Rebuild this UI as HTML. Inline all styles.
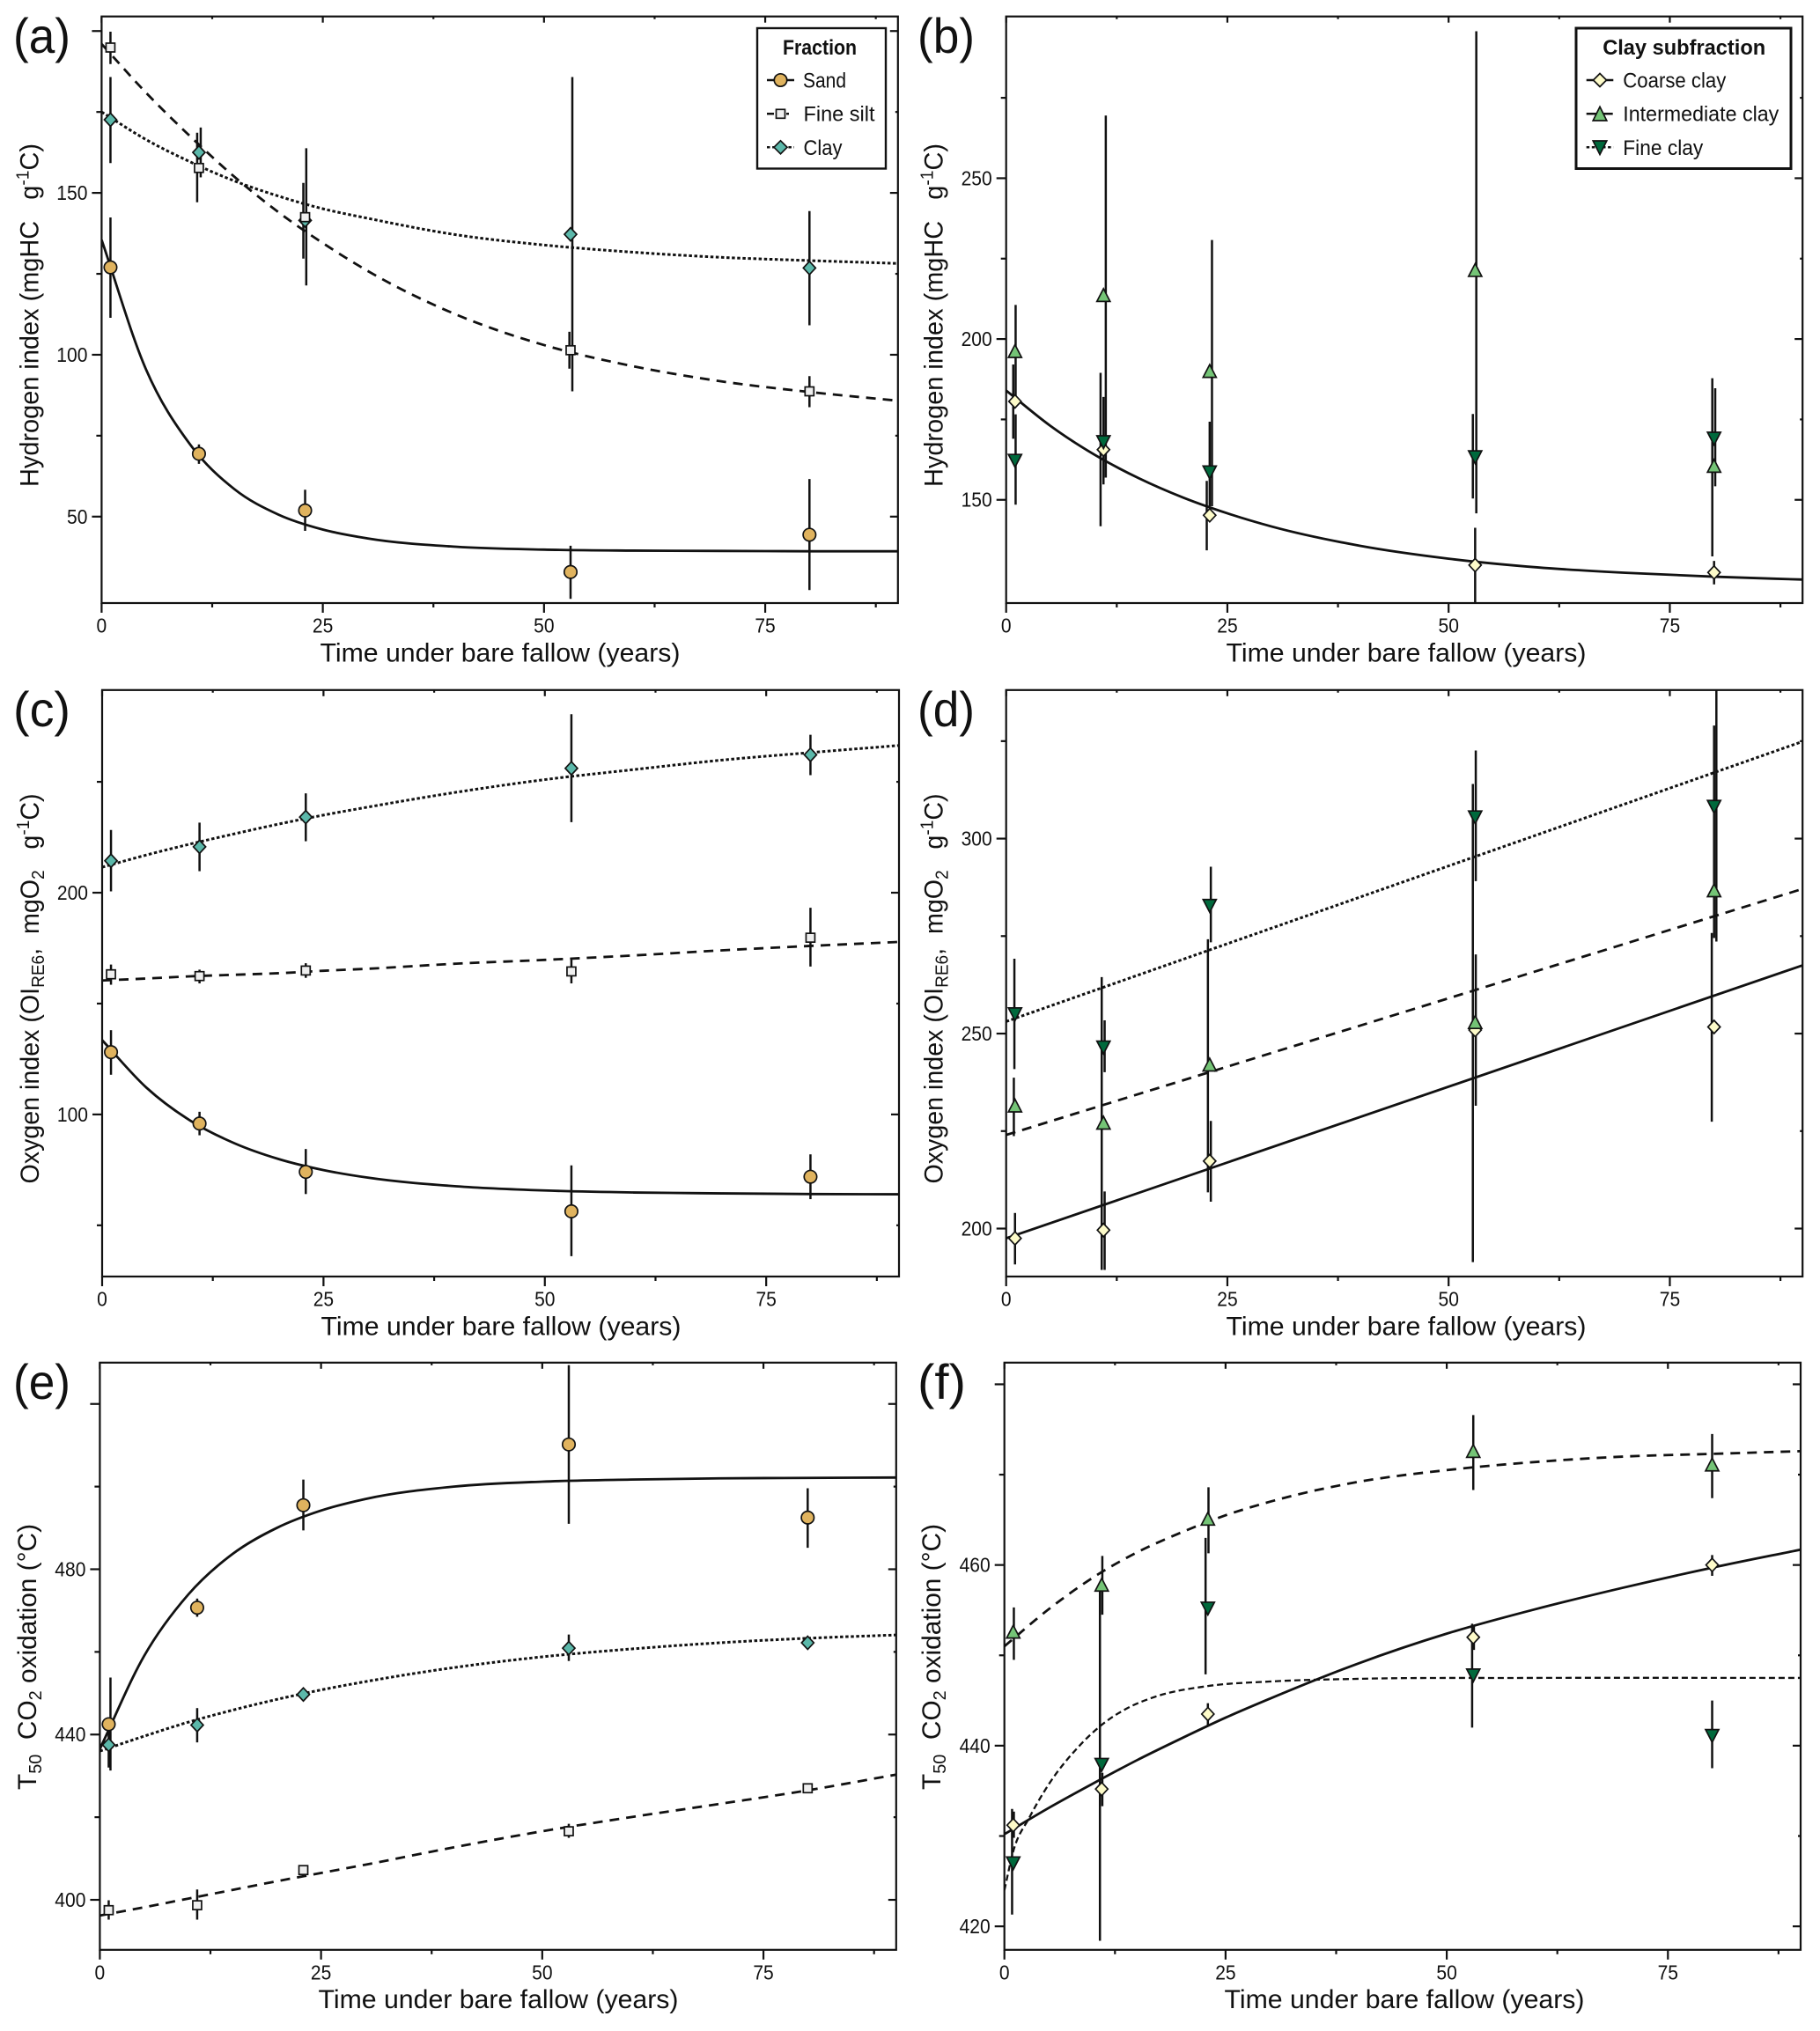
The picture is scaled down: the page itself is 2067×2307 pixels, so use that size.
<!DOCTYPE html>
<html lang="en">
<head>
<meta charset="utf-8">
<title>Rock-Eval indices under bare fallow</title>
<style>
html,body{margin:0;padding:0;background:#fff;}
svg{display:block;}
text{font-family:"Liberation Sans",sans-serif;fill:#111;}
.axis-title{font-size:30px;}
.x-title{font-size:30px;}
.panel-label{font-size:56px;}
.legend-title{font-size:24px;font-weight:bold;}
.legend-text{font-size:24px;}
.tick-label{font-size:23px;}
</style>
</head>
<body>
<svg id="figure" xmlns="http://www.w3.org/2000/svg" width="2067" height="2307" viewBox="0 0 2067 2307">
  <rect width="2067" height="2307" fill="#fff"/>
  <g id="plots"></g>

  <text class="panel-label" x="15" y="60" textLength="65" lengthAdjust="spacingAndGlyphs">(a)</text>
  <text class="panel-label" x="1042" y="60" textLength="65" lengthAdjust="spacingAndGlyphs">(b)</text>
  <text class="panel-label" x="15" y="825" textLength="65" lengthAdjust="spacingAndGlyphs">(c)</text>
  <text class="panel-label" x="1042" y="825" textLength="65" lengthAdjust="spacingAndGlyphs">(d)</text>
  <text class="panel-label" x="15" y="1589" textLength="65" lengthAdjust="spacingAndGlyphs">(e)</text>
  <text class="panel-label" x="1042" y="1589" textLength="55" lengthAdjust="spacingAndGlyphs">(f)</text>

  <text class="x-title" x="568" y="751.5" text-anchor="middle" textLength="409" lengthAdjust="spacingAndGlyphs">Time under bare fallow (years)</text>
  <text class="x-title" x="1597" y="751.5" text-anchor="middle" textLength="409" lengthAdjust="spacingAndGlyphs">Time under bare fallow (years)</text>
  <text class="x-title" x="569" y="1516.5" text-anchor="middle" textLength="409" lengthAdjust="spacingAndGlyphs">Time under bare fallow (years)</text>
  <text class="x-title" x="1597" y="1516.5" text-anchor="middle" textLength="409" lengthAdjust="spacingAndGlyphs">Time under bare fallow (years)</text>
  <text class="x-title" x="566" y="2281" text-anchor="middle" textLength="409" lengthAdjust="spacingAndGlyphs">Time under bare fallow (years)</text>
  <text class="x-title" x="1595" y="2281" text-anchor="middle" textLength="409" lengthAdjust="spacingAndGlyphs">Time under bare fallow (years)</text>

  <text class="axis-title" transform="translate(43.5,358) rotate(-90)" text-anchor="middle" textLength="390" lengthAdjust="spacingAndGlyphs" xml:space="preserve">Hydrogen index (mgHC   g<tspan dy="-11" font-size="20">-1</tspan><tspan dy="11">C)</tspan></text>
  <text class="axis-title" transform="translate(1070.5,358) rotate(-90)" text-anchor="middle" textLength="390" lengthAdjust="spacingAndGlyphs" xml:space="preserve">Hydrogen index (mgHC   g<tspan dy="-11" font-size="20">-1</tspan><tspan dy="11">C)</tspan></text>
  <text class="axis-title" transform="translate(44,1123) rotate(-90)" text-anchor="middle" textLength="443" lengthAdjust="spacingAndGlyphs" xml:space="preserve">Oxygen index (OI<tspan dy="6" font-size="20">RE6</tspan><tspan dy="-6">,  mgO</tspan><tspan dy="6" font-size="20">2</tspan><tspan dy="-6">   g</tspan><tspan dy="-11" font-size="20">-1</tspan><tspan dy="11">C)</tspan></text>
  <text class="axis-title" transform="translate(1070.5,1123) rotate(-90)" text-anchor="middle" textLength="443" lengthAdjust="spacingAndGlyphs" xml:space="preserve">Oxygen index (OI<tspan dy="6" font-size="20">RE6</tspan><tspan dy="-6">,  mgO</tspan><tspan dy="6" font-size="20">2</tspan><tspan dy="-6">   g</tspan><tspan dy="-11" font-size="20">-1</tspan><tspan dy="11">C)</tspan></text>
  <text class="axis-title" transform="translate(41,1882) rotate(-90)" text-anchor="middle" textLength="302" lengthAdjust="spacingAndGlyphs" xml:space="preserve">T<tspan dy="6" font-size="20">50</tspan><tspan dy="-6">  CO</tspan><tspan dy="6" font-size="20">2</tspan><tspan dy="-6"> oxidation (°C)</tspan></text>
  <text class="axis-title" transform="translate(1068,1882) rotate(-90)" text-anchor="middle" textLength="302" lengthAdjust="spacingAndGlyphs" xml:space="preserve">T<tspan dy="6" font-size="20">50</tspan><tspan dy="-6">  CO</tspan><tspan dy="6" font-size="20">2</tspan><tspan dy="-6"> oxidation (°C)</tspan></text>

  <g>
    <rect x="860" y="32" width="146" height="159.5" fill="#fff" stroke="#111" stroke-width="2.4"/>
    <text class="legend-title" x="931" y="62" text-anchor="middle" textLength="84" lengthAdjust="spacingAndGlyphs">Fraction</text>
    <g>
      <line x1="871" x2="902" y1="91" y2="91" stroke="#111" stroke-width="2.5"/>
      <circle cx="886.5" cy="91" r="7.2" fill="#e0b35e" stroke="#111" stroke-width="1.7"/>
      <text class="legend-text" x="912" y="99.3" textLength="49" lengthAdjust="spacingAndGlyphs">Sand</text>
    </g>
    <g>
      <line x1="871" x2="902" y1="129.3" y2="129.3" stroke="#111" stroke-width="2.5" stroke-dasharray="8 14 3 6"/>
      <rect x="881.5" y="124.3" width="10" height="10" fill="#efefef" stroke="#111" stroke-width="1.7"/>
      <text class="legend-text" x="912.5" y="137.7" textLength="81" lengthAdjust="spacingAndGlyphs">Fine silt</text>
    </g>
    <g>
      <line x1="871" x2="902" y1="167.3" y2="167.3" stroke="#111" stroke-width="2.5" stroke-dasharray="3.5 2.6"/>
      <polygon points="886.5,159.8 894,167.3 886.5,174.8 879,167.3" fill="#5bb8aa" stroke="#111" stroke-width="1.7"/>
      <text class="legend-text" x="912.5" y="176" textLength="44" lengthAdjust="spacingAndGlyphs">Clay</text>
    </g>
  </g>

  <g>
    <rect x="1790" y="32" width="244" height="159.5" fill="#fff" stroke="#111" stroke-width="3"/>
    <text class="legend-title" x="1912.7" y="62" text-anchor="middle" textLength="185" lengthAdjust="spacingAndGlyphs">Clay subfraction</text>
    <g>
      <line x1="1801.7" x2="1832.3" y1="91" y2="91" stroke="#111" stroke-width="2.5"/>
      <polygon points="1817,83.5 1824.5,91 1817,98.5 1809.5,91" fill="#fdfbc9" stroke="#111" stroke-width="1.7"/>
      <text class="legend-text" x="1843.3" y="99.3" textLength="117" lengthAdjust="spacingAndGlyphs">Coarse clay</text>
    </g>
    <g>
      <line x1="1801.7" x2="1832.3" y1="129.3" y2="129.3" stroke="#111" stroke-width="2.5" stroke-dasharray="11 8"/>
      <polygon points="1817,121.3 1824.8,137 1809.2,137" fill="#74c476" stroke="#111" stroke-width="1.7"/>
      <text class="legend-text" x="1843.3" y="137.7" textLength="177" lengthAdjust="spacingAndGlyphs">Intermediate clay</text>
    </g>
    <g>
      <line x1="1801.7" x2="1832.3" y1="167.3" y2="167.3" stroke="#111" stroke-width="2.5" stroke-dasharray="3.5 2.6"/>
      <polygon points="1809.2,160 1824.8,160 1817,175.5" fill="#00693c" stroke="#111" stroke-width="1.7"/>
      <text class="legend-text" x="1843.3" y="176" textLength="91" lengthAdjust="spacingAndGlyphs">Fine clay</text>
    </g>
  </g>
</svg>

<script>
// ---- shared categories and ticks ----
const years = [1, 11, 23, 53, 80];
const xMajorTicks = [0, 25, 50, 75];
const xMinorTicks = [12.5, 37.5, 62.5, 87.5];
const fitYears = [0, 5, 10, 15, 20, 25, 30, 40, 50, 60, 70, 80, 90];
const noDodge = [0, 0, 0, 0, 0];

// ---- panel (a) hydrogen index, fractions ----
const aDomain = [23.3, 204.5];
const aMajorTicks = [50, 100, 150, 200];
const aTickLabels = ['50', '100', '150', ''];
const aMinorTicks = [75, 125, 175];
const aSandY = [127, 69.4, 51.9, 32.9, 44.4];
const aSandHigh = [142.4, 72.3, 58.3, 41, 61.6];
const aSandLow = [111.4, 66.3, 45.6, 24.6, 27.3];
const aSandFit = [135.5, 95.6, 72.3, 58.5, 50.6, 46, 43.3, 40.7, 39.8, 39.5, 39.4, 39.3, 39.3];
const aClayY = [172.6, 162.5, 141.5, 137.2, 126.8];
const aClayHigh = [185.8, 170.2, 163.8, 185.8, 144.4];
const aClayLow = [159.2, 154.8, 121.4, 88.7, 109.1];
const aClayDodge = [0, 0.2, 0.13, 0.2, 0];
const aClayFit = [175, 166.5, 159.6, 153.7, 149, 145.1, 142.2, 137.1, 133.9, 131.7, 130.1, 129.1, 128.2];
const aSiltY = [194.9, 157.7, 142.5, 101.4, 88.7];
const aSiltHigh = [199.8, 168.6, 153.1, 107.1, 93.4];
const aSiltLow = [189.8, 147.1, 129.7, 95.7, 83.8];
const aSiltDodge = [0, -0.2, -0.2, -0.13, 0];
const aSiltFit = [196, 181, 167.5, 155, 144, 134.5, 126, 112.5, 103, 96.5, 91.8, 88.5, 85.8];

// ---- panel (b) hydrogen index, clay subfractions ----
const bDomain = [117.9, 300.3];
const bMajorTicks = [150, 200, 250];
const bTickLabels = ['150', '200', '250'];
const bMinorTicks = [175, 225, 275];
const bCoarseY = [180.6, 165.6, 145.2, 129.7, 127.4];
const bCoarseHigh = [192.1, 189.5, 155.9, 141.3, 131];
const bCoarseLow = [169, 141.8, 134.3, 118, 123.7];
const bCoarseDodge = [-0.2, -0.33, -0.33, 0, 0];
const bCoarseFit = [184, 173, 164, 156.7, 150.7, 145.8, 141.7, 135.7, 131.7, 129, 127.3, 126.1, 125.2];
const bInterY = [196.2, 213.6, 190, 221.4, 160.5];
const bInterHigh = [210.6, 269.5, 230.8, 295.7, 187.8];
const bInterLow = [181.8, 156.9, 148, 145.8, 132.4];
const bInterDodge = [0.07, 0.26, 0.26, 0.13, -0.2];
const bFineY = [162.2, 168, 158.6, 163.3, 169.1];
const bFineHigh = [176.6, 182, 174.3, 176.7, 184.7];
const bFineLow = [148.5, 154.8, 148, 150.4, 154.2];
const bFineDodge = [0.07, 0, 0, -0.26, 0.13];

// ---- panel (c) oxygen index, fractions ----
const cDomain = [26.9, 291.4];
const cMajorTicks = [100, 200];
const cTickLabels = ['100', '200'];
const cMinorTicks = [50, 150, 250];
const cSandY = [128.1, 95.9, 74.1, 56.3, 71.9];
const cSandHigh = [138, 101.2, 84.4, 77, 82];
const cSandLow = [117.9, 90.6, 64.1, 36.1, 61.8];
const cSandFit = [133.5, 112.1, 97.1, 86.9, 79.8, 74.9, 71.5, 67.6, 65.7, 64.8, 64.4, 64.1, 64];
const cSiltY = [163.2, 162.4, 164.9, 164.5, 179.7];
const cSiltHigh = [167.6, 165.3, 168.2, 169.8, 193.2];
const cSiltLow = [158.5, 159.1, 161.6, 159.1, 166.7];
const cSiltFit = [160.4, 161.3, 162.3, 163, 163.7, 164.8, 165.7, 168, 169.7, 171.7, 174, 176, 177.8];
const cClayY = [214.4, 220.7, 234.1, 256.1, 262.2];
const cClayHigh = [228.3, 231.6, 244.8, 280.5, 271.2];
const cClayLow = [200.6, 209.7, 223.2, 231.8, 253];
const cClayFit = [211.5, 217, 222, 226.6, 231, 235, 238.6, 245.3, 251, 255.5, 259.8, 263.2, 266.4];

// ---- panel (d) oxygen index, clay subfractions ----
const dDomain = [187.7, 338.1];
const dMajorTicks = [200, 250, 300];
const dTickLabels = ['200', '250', '300'];
const dMinorTicks = [225, 275, 325];
const dLineYears = [0, 90];
const dCoarseY = [197.5, 199.6, 217.3, 250.9, 251.7];
const dCoarseHigh = [204, 209.5, 227.6, 270.3, 275.8];
const dCoarseLow = [190.8, 189.4, 206.9, 231.5, 227.4];
const dCoarseDodge = [0, 0.13, 0.13, 0.07, -0.26];
const dCoarseFit = [197.5, 267.5];
const dInterY = [231.5, 227.1, 242, 252.9, 286.7];
const dInterHigh = [238.7, 264.5, 274.2, 314, 338.1];
const dInterLow = [223.7, 189.4, 209.3, 191.4, 273.6];
const dInterDodge = [-0.13, -0.2, -0.2, -0.26, 0.26];
const dInterFit = [224, 287.1];
const dFineY = [255, 246.5, 282.8, 305.5, 308.2];
const dFineHigh = [269.2, 253.4, 292.8, 322.6, 329];
const dFineLow = [240.9, 240.1, 273.4, 289.1, 274.5];
const dFineDodge = [-0.07, 0.13, 0.13, 0.07, 0];
const dFineFit = [253.1, 324.9];

// ---- panel (e) T50 oxidation, fractions ----
const eDomain = [387.9, 530];
const eMajorTicks = [400, 440, 480, 520];
const eTickLabels = ['400', '440', '480', ''];
const eMinorTicks = [420, 460, 500];
const eSandY = [442.5, 470.7, 495.5, 510.2, 492.5];
const eSandHigh = [453.8, 472.9, 501.7, 529.4, 499.6];
const eSandLow = [431.3, 468.5, 489.4, 491, 485.2];
const eSandDodge = [0.2, 0, 0, 0, 0];
const eSandFit = [436.5, 459, 473.9, 483.7, 490, 494.2, 497, 500, 501.2, 501.7, 502, 502.1, 502.2];
const eClayY = [437.5, 442.3, 449.7, 460.9, 462.2];
const eClayHigh = [443, 446.4, 451.2, 464.2, 463.5];
const eClayLow = [432, 438.1, 448.3, 457.8, 460.9];
const eClayFit = [436, 439.6, 443, 445.9, 448.5, 450.8, 452.8, 456.2, 458.8, 460.7, 462.2, 463.3, 464.1];
const eSiltY = [397.5, 398.7, 407.2, 416.6, 427];
const eSiltHigh = [399.9, 402.5, 408.4, 418.4, 428.2];
const eSiltLow = [395.2, 395.2, 405.7, 415, 425.8];
const eSiltFit = [396.2, 398.2, 400.3, 402.4, 404.5, 406.5, 408.5, 412.7, 416.6, 420, 423.2, 426.5, 430.3];

// ---- panel (f) T50 oxidation, clay subfractions ----
const fDomain = [417.4, 482.4];
const fMajorTicks = [420, 440, 460, 480];
const fTickLabels = ['420', '440', '460', ''];
const fMinorTicks = [430, 450, 470];
const fCoarseY = [431.2, 435.2, 443.5, 452, 460];
const fCoarseHigh = [432.7, 437, 444.7, 453.3, 461.1];
const fCoarseLow = [429.8, 433.3, 442.2, 450.6, 458.8];
const fCoarseDodge = [0.07, 0.07, 0, 0.07, 0];
const fCoarseFit = [430.2, 433.1, 435.8, 438.4, 440.8, 443.1, 445.2, 449.1, 452.4, 455.1, 457.5, 459.7, 461.7];
const fInterY = [452.6, 457.8, 465.1, 472.6, 471.1];
const fInterHigh = [455.3, 461, 468.6, 476.6, 474.5];
const fInterLow = [449.5, 454.5, 461.3, 468.3, 467.4];
const fInterDodge = [0.07, 0.07, 0.07, 0, 0];
const fInterFit = [451, 455.1, 458.6, 461.4, 463.6, 465.5, 467, 469.2, 470.5, 471.4, 472, 472.3, 472.6];
const fFineY = [427, 437.9, 455.2, 447.8, 441.1];
const fFineHigh = [433, 457.6, 463, 453.5, 445];
const fFineLow = [421.3, 418.4, 447.9, 442, 437.5];
const fFineDodge = [-0.13, -0.2, -0.26, -0.13, 0];
const fFineFitYears = [0, 1, 2.8, 5, 8.4, 11, 14, 17, 23, 30, 40, 60, 90];
const fFineFit = [424, 428.3, 432, 435.7, 439.9, 442.3, 444.2, 445.4, 446.6, 447.1, 447.4, 447.5, 447.5];

// ---- appearance ----
const SVG_NS = 'http://www.w3.org/2000/svg';
const INK = '#111';
const markerFill = {sand: '#e0b35e', silt: '#efefef', clay: '#5bb8aa', coarse: '#fdfbc9', inter: '#74c476', fine: '#00693c'};
const markerShape = {sand: 'circle', silt: 'square', clay: 'diamond', coarse: 'diamond', inter: 'up', fine: 'down'};
const lineDash = {solid: '', dashed: '11 8', dotted: '3.5 2.6', fineDashed: '7 4'};
const lineWidth = {solid: 2.8, dashed: 2.8, dotted: 3, fineDashed: 2.3};

const panels = [
  {id: 'a', box: [115.4, 1019.8, 18.7, 685], domain: aDomain, major: aMajorTicks, labels: aTickLabels, minor: aMinorTicks, series: [
    {key: 'sand', y: aSandY, high: aSandHigh, low: aSandLow, dodge: noDodge, fitX: fitYears, fit: aSandFit, line: 'solid'},
    {key: 'clay', y: aClayY, high: aClayHigh, low: aClayLow, dodge: aClayDodge, fitX: fitYears, fit: aClayFit, line: 'dotted'},
    {key: 'silt', y: aSiltY, high: aSiltHigh, low: aSiltLow, dodge: aSiltDodge, fitX: fitYears, fit: aSiltFit, line: 'dashed'}]},
  {id: 'b', box: [1142.7, 2047.2, 18.7, 685], domain: bDomain, major: bMajorTicks, labels: bTickLabels, minor: bMinorTicks, series: [
    {key: 'coarse', y: bCoarseY, high: bCoarseHigh, low: bCoarseLow, dodge: bCoarseDodge, fitX: fitYears, fit: bCoarseFit, line: 'solid'},
    {key: 'inter', y: bInterY, high: bInterHigh, low: bInterLow, dodge: bInterDodge},
    {key: 'fine', y: bFineY, high: bFineHigh, low: bFineLow, dodge: bFineDodge}]},
  {id: 'c', box: [116, 1021, 783.8, 1450], domain: cDomain, major: cMajorTicks, labels: cTickLabels, minor: cMinorTicks, series: [
    {key: 'sand', y: cSandY, high: cSandHigh, low: cSandLow, dodge: noDodge, fitX: fitYears, fit: cSandFit, line: 'solid'},
    {key: 'silt', y: cSiltY, high: cSiltHigh, low: cSiltLow, dodge: noDodge, fitX: fitYears, fit: cSiltFit, line: 'dashed'},
    {key: 'clay', y: cClayY, high: cClayHigh, low: cClayLow, dodge: noDodge, fitX: fitYears, fit: cClayFit, line: 'dotted'}]},
  {id: 'd', box: [1142.7, 2047.2, 783.8, 1450], domain: dDomain, major: dMajorTicks, labels: dTickLabels, minor: dMinorTicks, series: [
    {key: 'coarse', y: dCoarseY, high: dCoarseHigh, low: dCoarseLow, dodge: dCoarseDodge, fitX: dLineYears, fit: dCoarseFit, line: 'solid'},
    {key: 'inter', y: dInterY, high: dInterHigh, low: dInterLow, dodge: dInterDodge, fitX: dLineYears, fit: dInterFit, line: 'dashed'},
    {key: 'fine', y: dFineY, high: dFineHigh, low: dFineLow, dodge: dFineDodge, fitX: dLineYears, fit: dFineFit, line: 'dotted'}]},
  {id: 'e', box: [113.4, 1017.8, 1547.8, 2214.8], domain: eDomain, major: eMajorTicks, labels: eTickLabels, minor: eMinorTicks, series: [
    {key: 'sand', y: eSandY, high: eSandHigh, low: eSandLow, dodge: eSandDodge, fitX: fitYears, fit: eSandFit, line: 'solid'},
    {key: 'clay', y: eClayY, high: eClayHigh, low: eClayLow, dodge: noDodge, fitX: fitYears, fit: eClayFit, line: 'dotted'},
    {key: 'silt', y: eSiltY, high: eSiltHigh, low: eSiltLow, dodge: noDodge, fitX: fitYears, fit: eSiltFit, line: 'dashed'}]},
  {id: 'f', box: [1140.7, 2045, 1547.8, 2214.8], domain: fDomain, major: fMajorTicks, labels: fTickLabels, minor: fMinorTicks, series: [
    {key: 'coarse', y: fCoarseY, high: fCoarseHigh, low: fCoarseLow, dodge: fCoarseDodge, fitX: fitYears, fit: fCoarseFit, line: 'solid'},
    {key: 'inter', y: fInterY, high: fInterHigh, low: fInterLow, dodge: fInterDodge, fitX: fitYears, fit: fInterFit, line: 'dashed'},
    {key: 'fine', y: fFineY, high: fFineHigh, low: fFineLow, dodge: fFineDodge, fitX: fFineFitYears, fit: fFineFit, line: 'fineDashed'}]}
];

function addEl(parent, tag, name, attrs) {
  const el = document.createElementNS(SVG_NS, tag);
  
  
  for (const k in attrs) el.setAttribute(k, attrs[k]);
  parent.appendChild(el);
  return el;
}

// Smooth curve through the sampled fit values (cubic Hermite in Bezier form)
function smoothPath(xs, ys) {
  const n = xs.length;
  const m = [];
  for (let i = 0; i < n; i++) {
    if (i === 0) m.push((ys[1] - ys[0]) / (xs[1] - xs[0]));
    else if (i === n - 1) m.push((ys[n - 1] - ys[n - 2]) / (xs[n - 1] - xs[n - 2]));
    else {
      const h0 = xs[i] - xs[i - 1], h1 = xs[i + 1] - xs[i];
      const s0 = (ys[i] - ys[i - 1]) / h0, s1 = (ys[i + 1] - ys[i]) / h1;
      m.push((s0 * h1 + s1 * h0) / (h0 + h1));
    }
  }
  let d = 'M' + xs[0].toFixed(2) + ' ' + ys[0].toFixed(2);
  for (let i = 0; i < n - 1; i++) {
    const h = (xs[i + 1] - xs[i]) / 3;
    d += 'C' + (xs[i] + h).toFixed(2) + ' ' + (ys[i] + m[i] * h).toFixed(2) + ' ' +
         (xs[i + 1] - h).toFixed(2) + ' ' + (ys[i + 1] - m[i + 1] * h).toFixed(2) + ' ' +
         xs[i + 1].toFixed(2) + ' ' + ys[i + 1].toFixed(2);
  }
  return d;
}

function drawMarker(parent, key, cx, cy) {
  const fill = markerFill[key];
  const style = {fill: fill, stroke: INK, 'stroke-width': 1.7};
  const shape = markerShape[key];
  const name = 'marker-' + key;
  if (shape === 'circle') {
    addEl(parent, 'circle', name, Object.assign({cx: cx, cy: cy, r: 7.2}, style));
  } else if (shape === 'square') {
    addEl(parent, 'rect', name, Object.assign({x: cx - 5, y: cy - 5, width: 10, height: 10}, style));
  } else {
    let pts;
    if (shape === 'diamond') pts = [[cx, cy - 7.5], [cx + 7, cy], [cx, cy + 7.5], [cx - 7, cy]];
    else if (shape === 'up') pts = [[cx, cy - 7.5], [cx + 7.5, cy + 7], [cx - 7.5, cy + 7]];
    else pts = [[cx - 7.5, cy - 7], [cx + 7.5, cy - 7], [cx, cy + 7.5]];
    addEl(parent, 'polygon', name, Object.assign({points: pts.map(p => p.join(',')).join(' ')}, style));
  }
}

function drawPanel(p) {
  const root = document.getElementById('plots');
  const g = addEl(root, 'g', 'panel-' + p.id, {});
  const [L, R, T, B] = p.box;
  const xScale = v => L + (v / 90) * (R - L);
  const yScale = v => B - (v - p.domain[0]) / (p.domain[1] - p.domain[0]) * (B - T);

  const clipId = 'clip-' + p.id;
  const defs = addEl(g, 'defs', 'panel-clip-defs', {});
  const clip = addEl(defs, 'clipPath', 'panel-clip', {id: clipId});
  addEl(clip, 'rect', 'panel-clip-rect', {x: L, y: T, width: R - L, height: B - T});

  const marks = addEl(g, 'g', 'series-marks-' + p.id, {'clip-path': 'url(#' + clipId + ')'});

  p.series.forEach(s => {
    if (s.fit) {
      addEl(marks, 'path', 'fit-curve-' + s.key, {
        d: smoothPath(s.fitX.map(xScale), s.fit.map(yScale)),
        fill: 'none', stroke: INK,
        'stroke-width': lineWidth[s.line],
        'stroke-dasharray': lineDash[s.line]
      });
    }
  });
  p.series.forEach(s => {
    years.forEach((yr, i) => {
      const ex = xScale(yr + s.dodge[i]);
      addEl(marks, 'line', 'error-bar-' + s.key, {
        x1: ex, x2: ex, y1: yScale(s.low[i]), y2: yScale(s.high[i]),
        stroke: INK, 'stroke-width': 2.5
      });
    });
  });
  p.series.forEach(s => {
    years.forEach((yr, i) => {
      drawMarker(g, s.key, xScale(yr), yScale(s.y[i]));
    });
  });

  // frame
  addEl(g, 'rect', 'plot-frame-' + p.id, {x: L, y: T, width: R - L, height: B - T, fill: 'none', stroke: INK, 'stroke-width': 2.2});

  const tickStyle = {stroke: INK, 'stroke-width': 2.2};
  // x ticks
  xMajorTicks.forEach(v => {
    const x = xScale(v);
    addEl(g, 'line', 'x-tick-bottom', Object.assign({x1: x, x2: x, y1: B, y2: B + 11}, tickStyle));
    addEl(g, 'line', 'x-tick-top', Object.assign({x1: x, x2: x, y1: T, y2: T + 7}, tickStyle));
    const text = String(v);
    const label = addEl(g, 'text', 'x-tick-label', {x: x, y: B + 33.5, 'text-anchor': 'middle', class: 'tick-label', textLength: text.length * 11.7, lengthAdjust: 'spacingAndGlyphs'});
    label.textContent = text;
  });
  xMinorTicks.forEach(v => {
    const x = xScale(v);
    addEl(g, 'line', 'x-minor-tick-bottom', Object.assign({x1: x, x2: x, y1: B, y2: B + 5}, tickStyle));
    addEl(g, 'line', 'x-minor-tick-top', Object.assign({x1: x, x2: x, y1: T, y2: T + 3}, tickStyle));
  });
  // y ticks
  p.major.forEach((v, i) => {
    const y = yScale(v);
    addEl(g, 'line', 'y-tick-left', Object.assign({x1: L - 11, x2: L, y1: y, y2: y}, tickStyle));
    addEl(g, 'line', 'y-tick-right', Object.assign({x1: R - 9, x2: R, y1: y, y2: y}, tickStyle));
    if (p.labels[i]) {
      const label = addEl(g, 'text', 'y-tick-label', {x: L - 16, y: y + 8, 'text-anchor': 'end', class: 'tick-label', textLength: p.labels[i].length * 11.7, lengthAdjust: 'spacingAndGlyphs'});
      label.textContent = p.labels[i];
    }
  });
  p.minor.forEach(v => {
    const y = yScale(v);
    addEl(g, 'line', 'y-minor-tick-left', Object.assign({x1: L - 6, x2: L, y1: y, y2: y}, tickStyle));
    addEl(g, 'line', 'y-minor-tick-right', Object.assign({x1: R - 3, x2: R, y1: y, y2: y}, tickStyle));
  });
}

panels.forEach(drawPanel);
</script>
</body>
</html>
